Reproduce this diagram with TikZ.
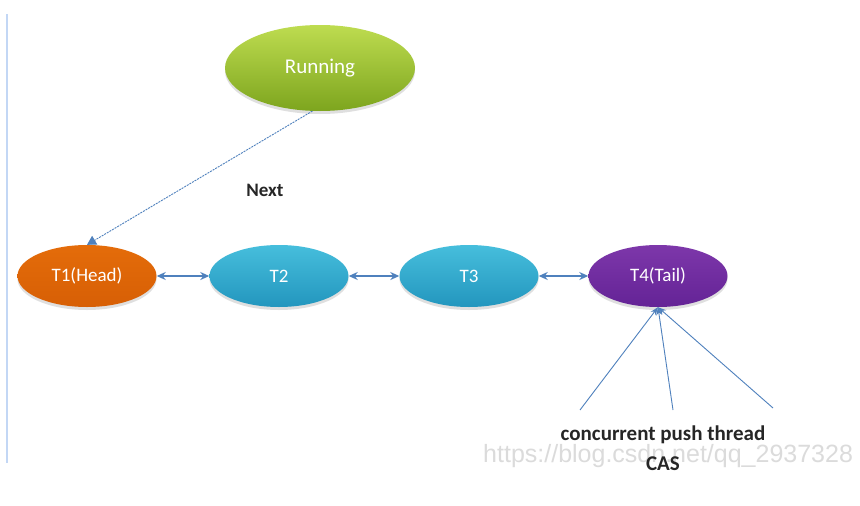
\documentclass[tikz,border=0pt]{standalone}
\usepackage{fontspec}
\setmainfont{Carlito}
\newfontfamily\wmfont{Liberation Sans}
\usetikzlibrary{shapes.geometric,arrows.meta,shadows}
\definecolor{linkblue}{RGB}{79,129,189}
\definecolor{orangeT}{RGB}{228,108,10}
\definecolor{orangeB}{RGB}{215,95,5}
\definecolor{cyanT}{RGB}{70,190,220}
\definecolor{cyanB}{RGB}{35,150,190}
\definecolor{purpT}{RGB}{125,55,170}
\definecolor{purpB}{RGB}{100,35,150}
\definecolor{greenT}{RGB}{190,220,80}
\definecolor{greenB}{RGB}{125,165,30}
\definecolor{edgeline}{RGB}{195,215,245}
\tikzset{
  x=1pt,y=1pt,
  thread/.style={ellipse, minimum width=139pt, minimum height=62pt, inner sep=0pt,
    text=white, font=\fontsize{19}{22}\selectfont,
    drop shadow={shadow xshift=0pt, shadow yshift=-3pt, opacity=0.25}},
  link/.style={draw=linkblue, line width=1.4pt, {Stealth[length=9pt,width=8pt]}-{Stealth[length=9pt,width=8pt]}},
  push/.style={draw=linkblue, line width=0.9pt, -{Stealth[length=8pt,width=6pt]}},
  boldlabel/.style={font=\fontsize{21}{24}\selectfont\bfseries, text=black!85, inner sep=0pt, anchor=base}
}
\begin{document}
\begin{tikzpicture}
\useasboundingbox (0,0) rectangle (860,-506);
\fill[white] (0,0) rectangle (860,-506);
\draw[edgeline, line width=1.2pt] (7,-14) -- (7,-463);

\node[thread, minimum width=190pt, minimum height=86pt, top color=greenT, bottom color=greenB, font=\fontsize{21}{24}\selectfont] (run) at (320,-68) {Running};
\node[thread, top color=orangeT, bottom color=orangeB] (t1) at (87,-276) {T1(Head)};
\node[thread, top color=cyanT, bottom color=cyanB] (t2) at (279,-276) {T2};
\node[thread, top color=cyanT, bottom color=cyanB] (t3) at (469,-276) {T3};
\node[thread, top color=purpT, bottom color=purpB] (t4) at (658,-276) {T4(Tail)};

\draw[draw=linkblue, line width=0.9pt, dashed, dash pattern=on 2pt off 1pt, -{Triangle[length=9pt,width=10pt]}] (run.-100) -- (t1.north);
\node[font=\fontsize{19}{22}\selectfont\bfseries, text=black!85] (next) at (265,-190) {Next};

\draw[link] (t1) -- (t2);
\draw[link] (t2) -- (t3);
\draw[link] (t3) -- (t4);

\coordinate (p1) at (580,-410);
\coordinate (p2) at (673,-410);
\coordinate (p3) at (773,-408);
\draw[push] (p1) -- (t4.south);
\draw[push] (p2) -- (t4.south);
\draw[push] (p3) -- (t4.south);

\node[font=\fontsize{25}{28}\selectfont\wmfont, text=black!14, anchor=base west, inner sep=0pt] (wm) at (483,-462) {https://blog.csdn.net/qq\_2937328};
\node[boldlabel] (lbl1) at (663,-440) {concurrent push thread};
\node[boldlabel] (lbl2) at (663,-470) {CAS};
\end{tikzpicture}
\end{document}
